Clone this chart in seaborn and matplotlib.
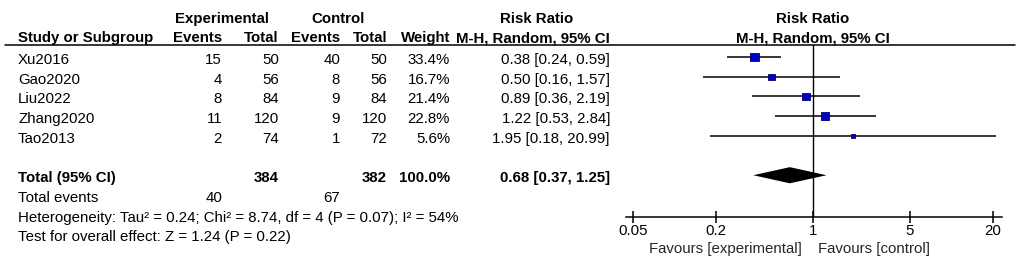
import matplotlib
matplotlib.use('Agg')
import matplotlib.pyplot as plt
import matplotlib.transforms as mtransforms
from matplotlib.ticker import FixedLocator, FixedFormatter, NullLocator
import numpy as np
import pandas as pd
import seaborn as sns

# study level data
studies = ['Xu2016', 'Gao2020', 'Liu2022', 'Zhang2020', 'Tao2013']
exp_events = [15, 4, 8, 11, 2]
exp_total = [50, 56, 84, 120, 74]
ctrl_events = [40, 8, 9, 9, 1]
ctrl_total = [50, 56, 84, 120, 72]
weights = [33.4, 16.7, 21.4, 22.8, 5.6]
rr = [0.38, 0.50, 0.89, 1.22, 1.95]
ci_low = [0.24, 0.16, 0.36, 0.53, 0.18]
ci_high = [0.59, 1.57, 2.19, 2.84, 20.99]

# pooled result
pooled_rr = 0.68
pooled_low = 0.37
pooled_high = 1.25
total_exp = 384
total_ctrl = 382
total_weight = 100.0
events_exp = 40
events_ctrl = 67
heterogeneity = 'Heterogeneity: Tau\u00b2 = 0.24; Chi\u00b2 = 8.74, df = 4 (P = 0.07); I\u00b2 = 54%'
overall = 'Test for overall effect: Z = 1.24 (P = 0.22)'

tick_vals = [0.05, 0.2, 1, 5, 20]
tick_labels = ['0.05', '0.2', '1', '5', '20']

df = pd.DataFrame({'study': studies, 'rr': rr, 'lo': ci_low, 'hi': ci_high,
                   'weight': weights, 'row': np.arange(len(studies))})

sns.set_style('white')
plt.rcParams['font.family'] = ['Liberation Sans', 'DejaVu Sans']
FS = 10.8

W, H = 1021, 272
fig = plt.figure(figsize=(W / 100, H / 100), dpi=100)
ax = fig.add_axes([626 / W, (H - 217) / H, 376 / W, (217 - 45) / H])

# squares sized by weight (area ~ weight)
size_map = {w: (1.55 * np.sqrt(w) * 0.72) ** 2 for w in weights}
ax.hlines(df['row'], df['lo'], df['hi'], color='black', lw=1.1, zorder=2)
sns.scatterplot(data=df, x='rr', y='row', size='weight', sizes=size_map,
                marker='s', color='#0000C8', edgecolor='#000070', linewidth=0.6,
                legend=False, ax=ax, zorder=3)

# pooled diamond
total_row = len(studies) + 1
half_h = 0.41
ax.fill([pooled_low, pooled_rr, pooled_high, pooled_rr],
        [total_row, total_row - half_h, total_row, total_row + half_h],
        color='black', lw=0, zorder=3)

ax.axvline(1, color='black', lw=1.0, zorder=1)
ax.set_xscale('log')
ax.set_xlim(0.04448, 23.23)
ax.set_ylim(8.12, -0.61)
ax.xaxis.set_major_locator(FixedLocator(tick_vals))
ax.xaxis.set_major_formatter(FixedFormatter(tick_labels))
ax.xaxis.set_minor_locator(NullLocator())
ax.set_yticks([])
ax.set_xlabel('')
ax.set_ylabel('')
for s in ['top', 'left', 'right']:
    ax.spines[s].set_visible(False)
ax.spines['bottom'].set_linewidth(1.1)
ax.spines['bottom'].set_color('black')
ax.tick_params(axis='x', bottom=True, direction='inout', length=8, width=1.1,
               pad=1, labelsize=FS, colors='black')

ax.annotate('Favours [experimental]', xy=(1, 0), xycoords=ax.get_xaxis_transform(),
            xytext=(-11, -32), textcoords='offset pixels', ha='right', va='center',
            fontsize=FS)
ax.annotate('Favours [control]', xy=(1, 0), xycoords=ax.get_xaxis_transform(),
            xytext=(5, -32), textcoords='offset pixels', ha='left', va='center',
            fontsize=FS)

# table text, x in figure pixels, y in the forest rows
tr = mtransforms.blended_transform_factory(fig.transFigure, ax.transData)


def put(xpix, row, s, ha='right', bold=False):
    fig.text(xpix / W, row + 0.15, s, transform=tr, ha=ha, va='center',
             fontsize=FS, fontweight='bold' if bold else 'normal', color='black')


# header
put(222, -2.1, 'Experimental', ha='center', bold=True)
put(338, -2.1, 'Control', ha='center', bold=True)
put(537, -2.1, 'Risk Ratio', ha='center', bold=True)
put(813, -2.1, 'Risk Ratio', ha='center', bold=True)
put(18, -1.1, 'Study or Subgroup', ha='left', bold=True)
put(222, -1.1, 'Events', bold=True)
put(279, -1.1, 'Total', bold=True)
put(340, -1.1, 'Events', bold=True)
put(387, -1.1, 'Total', bold=True)
put(450, -1.1, 'Weight', bold=True)
put(610, -1.1, 'M-H, Random, 95% CI', bold=True)
put(813, -1.1, 'M-H, Random, 95% CI', ha='center', bold=True)
ax.plot([5 / W, 1015 / W], [-0.61, -0.61], transform=tr, color='black',
        lw=1.1, clip_on=False)

for i, name in enumerate(studies):
    put(18, i, name, ha='left')
    put(222, i, str(exp_events[i]))
    put(279, i, str(exp_total[i]))
    put(340, i, str(ctrl_events[i]))
    put(387, i, str(ctrl_total[i]))
    put(450, i, f'{weights[i]:.1f}%')
    put(610, i, f'{rr[i]:.2f} [{ci_low[i]:.2f}, {ci_high[i]:.2f}]')

put(18, total_row, 'Total (95% CI)', ha='left', bold=True)
put(279, total_row, str(total_exp), bold=True)
put(387, total_row, str(total_ctrl), bold=True)
put(450, total_row, f'{total_weight:.1f}%', bold=True)
put(610, total_row, f'{pooled_rr:.2f} [{pooled_low:.2f}, {pooled_high:.2f}]', bold=True)
put(18, total_row + 1, 'Total events', ha='left')
put(222, total_row + 1, str(events_exp))
put(340, total_row + 1, str(events_ctrl))
put(18, total_row + 2, heterogeneity, ha='left')
put(18, total_row + 3, overall, ha='left')

fig.savefig('out.png', dpi=100)
